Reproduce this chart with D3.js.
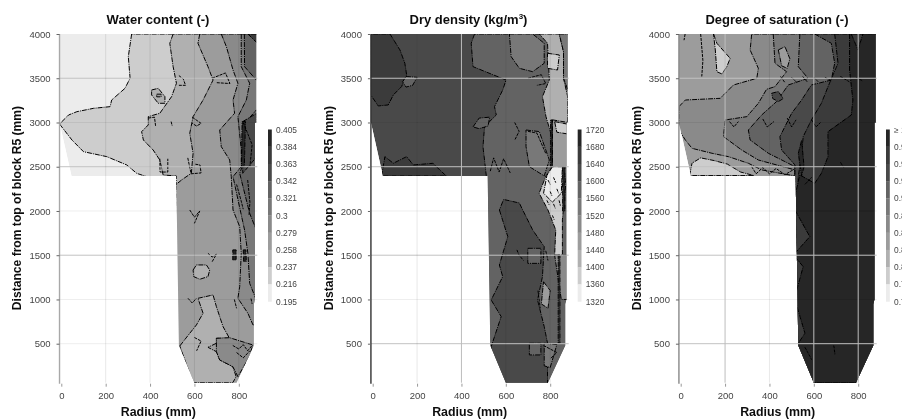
<!DOCTYPE html>
<html lang="en">
<head>
<meta charset="UTF-8">
<title>Block R5 profiles</title>
<script src="https://d3js.org/d3.v7.min.js"></script>
<style>
    html, body { margin: 0; padding: 0; background: #fff; overflow: hidden; }
    text { font-family: "Liberation Sans", Arial, sans-serif; }
    .title, .axis-label { font-weight: bold; fill: #111; }
    .tick text { fill: #444; }
</style>
</head>
<body>
<svg id="chart" width="902" height="419"></svg>
<script>
// grey for each of the ten contour bands, lightest first
var bandGreys = ["#ececec", "#cdcdcd", "#b0b0b0", "#9c9c9c", "#8a8a8a", "#787878", "#646464", "#4a4a4a", "#3a3a3a", "#262626"];

var radiusTicks = [0, 200, 400, 600, 800];
var depthTicks = [4000, 3500, 3000, 2500, 2000, 1500, 1000, 500];

// block section, [radius mm, depth mm]
var blockOutline = [[-8, 4000], [878, 4000], [878, 3000], [873, 3000], [873, 1000], [868, 950], [868, 480], [790, 60], [600, 60], [530, 480], [518, 2395], [46, 2395], [-8, 3000]];

var waterLabels = ["0.405", "0.384", "0.363", "0.342", "0.321", "0.3", "0.279", "0.258", "0.237", "0.216", "0.195"];
var densityLabels = ["1720", "1680", "1640", "1600", "1560", "1520", "1480", "1440", "1400", "1360", "1320"];
var saturationLabels = ["\u2265 1", "0.975", "0.95", "0.925", "0.9", "0.875", "0.85", "0.825", "0.8", "0.775", "0.75"];

// zones are painted in order: [band, outline]
var waterZones = [
    [1, [[317, 4000], [302, 3744], [310, 3500], [287, 3386], [227, 3254], [220, 3179], [145, 3160], [70, 3122], [33, 3085], [-8, 2983], [48, 2802], [100, 2670], [205, 2614], [295, 2520], [340, 2425], [385, 2388], [500, 2300], [1000, 2300], [1000, 4000]]],
    [2, [[504, 4000], [489, 3895], [504, 3631], [519, 3443], [497, 3292], [444, 3104], [392, 3066], [392, 2972], [362, 2896], [370, 2802], [414, 2689], [444, 2576], [459, 2407], [519, 2395], [519, 2300], [1000, 2300], [1000, 4000]]],
    [2, [[407, 3367], [437, 3386], [467, 3292], [467, 3217], [437, 3217], [407, 3311]]],
    [3, [[430, 3320], [450, 3320], [450, 3290], [430, 3290]]],
    [3, [[624, 4000], [616, 3895], [661, 3631], [684, 3480], [639, 3254], [594, 3066], [579, 2878], [594, 2652], [586, 2426], [542, 2350], [518, 2300], [500, 0], [1000, 0], [1000, 4000]]],
    [2, [[534, 474], [579, 618], [609, 712], [639, 844], [616, 1013], [684, 1051], [699, 919], [729, 693], [758, 561], [699, 561], [699, 505], [661, 459], [699, 410], [714, 316], [773, 241], [788, 128], [773, 60], [594, 60]]],
    [2, [[594, 1333], [609, 1390], [654, 1390], [669, 1333], [661, 1258], [624, 1228], [597, 1258]]],
    [4, [[721, 4000], [744, 3857], [774, 3593], [796, 3443], [774, 3254], [781, 3104], [714, 2915], [721, 2727], [759, 2576], [766, 2388], [774, 2011], [804, 1823], [811, 1521], [804, 1145], [796, 1013], [841, 844], [864, 712], [1000, 700], [1000, 4000]]],
    [4, [[699, 561], [758, 568], [863, 486], [848, 354], [796, 128], [773, 241], [714, 316], [699, 410]]],
    [5, [[811, 4000], [811, 3631], [849, 3443], [834, 3254], [796, 3066], [811, 2689], [811, 2500], [774, 2388], [790, 2200], [826, 1785], [841, 1521], [849, 1182], [879, 994], [1000, 994], [1000, 4000]]],
    [6, [[825, 4000], [826, 3631], [879, 3480], [1000, 3480], [1000, 4000]]],
    [6, [[1000, 3141], [879, 3141], [826, 2991], [826, 2576], [804, 2426], [849, 1973], [879, 1785], [1000, 1785]]],
    [8, [[841, 4000], [884, 3895], [884, 4000]]],
    [7, [[818, 3010], [881, 3104], [881, 2614], [818, 2426], [815, 2727]]],
    [9, [[815, 3010], [830, 3010], [825, 2500], [812, 2500]]],
    [9, [[773, 1560], [788, 1560], [788, 1446], [773, 1446]]],
    [9, [[820, 1560], [832, 1560], [834, 1430], [822, 1430]]]
];
var waterSquiggles = [
    [[444, 2590], [445, 2440], [480, 2440], [480, 2590]], [[570, 2600], [585, 2420], [630, 2430], [625, 2520], [600, 2530]],
    [[392, 3050], [420, 3060], [425, 2960]], [[495, 3010], [500, 2960]], [[590, 3060], [630, 2990], [610, 2960], [590, 2990]],
    [[530, 3530], [550, 3490], [560, 3420], [530, 3420]], [[680, 3500], [740, 3560], [760, 3440], [700, 3450]],
    [[579, 2011], [600, 1930], [624, 2000], [600, 1860]], [[661, 1521], [680, 1480], [699, 1510], [680, 1427]], [[571, 1013], [590, 960], [609, 1013]],
    [[773, 480], [800, 440], [820, 490], [840, 420], [860, 480]], [[790, 400], [820, 340], [850, 420]], [[600, 570], [630, 530], [610, 420]],
    [[790, 2300], [810, 2120], [820, 2020]], [[840, 2350], [850, 2100], [846, 1950]], [[820, 3000], [860, 2750], [850, 2500]], [[780, 1000], [790, 900]], [[855, 1010], [860, 950]]
];

var densityZones = [
    [8, [[3, 4000], [78, 4000], [123, 3819], [145, 3669], [153, 3537], [130, 3405], [93, 3311], [70, 3198], [25, 3187], [-9, 3311], [-9, 4000]]],
    [8, [[40, 2395], [55, 2614], [93, 2539], [153, 2614], [183, 2520], [272, 2539], [302, 2464], [332, 2395]]],
    [6, [[150, 3520], [200, 3510], [180, 3420], [150, 3400], [135, 3460]]],
    [6, [[459, 4000], [444, 3895], [452, 3631], [601, 3480], [586, 3367], [549, 3179], [557, 3085], [504, 2953], [497, 2727], [504, 2576], [512, 2396], [512, 2300], [400, 2000], [400, 0], [1000, 0], [1000, 4000]]],
    [6, [[452, 2950], [480, 3050], [527, 3060], [520, 2960], [480, 2930]]],
    [7, [[571, 2011], [609, 1710], [571, 1390], [586, 1258], [534, 994], [579, 806], [549, 580], [534, 467], [500, 0], [788, 0], [788, 505], [773, 693], [743, 994], [765, 1258], [773, 1597], [721, 1785], [676, 2011], [661, 2090], [601, 2124], [590, 2130]]],
    [6, [[706, 505], [758, 505], [758, 373], [706, 373]]],
    [5, [[773, 505], [830, 490], [800, 230], [773, 250]]],
    [6, [[699, 1578], [758, 1578], [758, 1408], [699, 1408]]],
    [5, [[616, 4000], [721, 4000], [773, 3895], [773, 3669], [721, 3574], [661, 3612], [624, 3744]]],
    [5, [[691, 2915], [751, 2897], [796, 2576], [773, 2396], [706, 2501], [691, 2727]]],
    [2, [[751, 4000], [841, 4000], [860, 3800], [860, 3500], [878, 3300], [878, 3000], [803, 2878], [781, 3066], [765, 3292], [796, 3480], [788, 3895]]],
    [5, [[841, 4000], [890, 4000], [890, 3300], [860, 3500], [860, 3800]]],
    [1, [[788, 3782], [841, 3763], [833, 3593], [788, 3612]]],
    [3, [[810, 3030], [880, 3000], [880, 2500], [810, 2500]]],
    [1, [[820, 3010], [880, 2980], [880, 2870], [830, 2890]]],
    [1, [[810, 2501], [781, 2396], [750, 2200], [790, 2011], [825, 1785], [820, 1500], [855, 1500], [855, 1900], [870, 2300], [860, 2500]]],
    [0, [[810, 2500], [785, 2400], [770, 2200], [810, 2100], [850, 2200], [855, 2500]]],
    [4, [[820, 1500], [878, 1500], [878, 1000], [850, 1000]]],
    [3, [[770, 1200], [800, 1100], [790, 900], [760, 950]]],
    [9, [[802, 3028], [810, 3028], [810, 2501], [802, 2501]]],
    [8, [[836, 1500], [844, 1500], [844, 505], [836, 505]]],
    [9, [[856, 2500], [866, 2500], [866, 2000], [856, 2000]]]
];
var densitySquiggles = [
    [[530, 2450], [545, 2600], [570, 2440], [590, 2590], [620, 2430]], [[640, 3000], [660, 2900], [640, 2800]],
    [[700, 3500], [760, 3540], [780, 3440], [740, 3420]], [[790, 2350], [800, 2300]], [[815, 2380], [825, 2320]], [[800, 2220], [808, 2170]],
    [[830, 2250], [838, 2200]], [[785, 2120], [795, 2070]], [[815, 2080], [823, 2030]], [[840, 2120], [846, 2060]], [[810, 1950], [818, 1900]],
    [[650, 1560], [660, 1500], [680, 1440]], [[780, 1550], [790, 1440]], [[745, 1100], [755, 900]], [[770, 480], [800, 440], [830, 400], [800, 330]],
    [[700, 2900], [740, 2880], [780, 2650]]
];

var saturationZones = [
    [1, [[148, 4000], [163, 3895], [223, 3725], [208, 3631], [186, 3548], [163, 3574], [156, 3819]]],
    [1, [[40, 2400], [51, 2540], [90, 2600], [150, 2570], [210, 2530], [270, 2440], [330, 2400]]],
    [4, [[-8, 3179], [21, 3254], [178, 3273], [238, 3424], [343, 3499], [350, 3612], [313, 3819], [320, 4000], [1000, 4000], [1000, 60], [515, 60], [515, 2396], [365, 2464], [305, 2539], [215, 2614], [141, 2652], [51, 2708], [21, 2802], [-8, 2915]]],
    [5, [[417, 4000], [425, 3669], [477, 3574], [425, 3405], [387, 3375], [350, 3217], [298, 3066], [200, 3028], [193, 2840], [275, 2689], [350, 2576], [515, 2464], [515, 60], [1000, 60], [1000, 4000]]],
    [6, [[537, 4000], [530, 3631], [574, 3499], [485, 3424], [432, 3236], [365, 3085], [305, 2915], [313, 2802], [395, 2652], [515, 2501], [515, 60], [1000, 60], [1000, 4000]]],
    [7, [[604, 4000], [679, 3895], [694, 3669], [679, 3480], [589, 3424], [545, 3254], [500, 3104], [447, 2840], [455, 2689], [515, 2520], [515, 60], [1000, 60], [1000, 4000]]],
    [8, [[694, 4000], [709, 3669], [664, 3405], [634, 3217], [589, 3028], [552, 2840], [545, 2652], [530, 2388], [500, 60], [1000, 60], [1000, 4000]]],
    [9, [[761, 4000], [761, 3593], [776, 3254], [769, 3085], [664, 2897], [664, 2614], [634, 2426], [604, 2313], [537, 2407], [500, 2000], [500, 60], [1000, 60], [1000, 4000]]],
    [8, [[769, 4000], [799, 3819], [821, 4000]]],
    [8, [[515, 2011], [582, 1710], [515, 1521]]],
    [8, [[515, 1484], [552, 1371], [515, 1032]]],
    [8, [[515, 1000], [560, 618], [520, 467]]],
    [3, [[440, 3820], [470, 3857], [492, 3720], [480, 3612], [455, 3640]]],
    [7, [[410, 3330], [440, 3350], [462, 3270], [440, 3236], [415, 3270]]],
    [9, [[530, 2650], [545, 2800], [556, 2500], [545, 2400]]]
];
var saturationSquiggles = [
    [[90, 4000], [100, 3700], [95, 3520]], [[20, 4000], [15, 3930]], [[450, 3520], [470, 3450]], [[500, 3510], [520, 3460]], [[550, 3520], [570, 3460]],
    [[600, 3510], [620, 3460]], [[650, 3510], [680, 3470]], [[720, 3520], [760, 3460]], [[790, 3510], [820, 3470]],
    [[220, 3010], [240, 2950], [260, 3010]], [[370, 3040], [390, 2950], [420, 3010]], [[480, 3050], [500, 2950], [520, 3030]], [[590, 3030], [610, 2950], [630, 3000]],
    [[320, 2500], [340, 2420], [370, 2490], [400, 2420], [430, 2480], [470, 2410], [510, 2470]], [[690, 480], [695, 380]], [[720, 2550], [735, 2490]], [[560, 2300], [590, 2380]], [[560, 460], [590, 320]]
];

var svg = d3.select("#chart");

var defs = svg.append("defs");
// the reference is a soft scan, so the whole figure gets a slight blur
defs.append("filter").attr("id", "soft").attr("x", 0).attr("y", 0).attr("width", "100%").attr("height", "100%")
    .append("feGaussianBlur").attr("stdDeviation", 0.55);

var figure = svg.append("g").attr("filter", "url(#soft)");

var panelTop = 34, panelBottom = 382.7;

function drawPanel(p) {
    var g = figure.append("g");
    var x = d3.scaleLinear().domain([0, 800]).range([p.x0, p.x0 + 177.5]);
    var y = d3.scaleLinear().domain([4000, 500]).range([panelTop, 343.7]);
    var line = d3.line().x(function(d) { return x(d[0]); }).y(function(d) { return y(d[1]); });

    defs.append("clipPath").attr("id", "clip-" + p.id).append("path").attr("d", line(blockOutline) + "Z");

    var body = g.append("g").attr("clip-path", "url(#clip-" + p.id + ")");
    body.append("path").attr("d", line(blockOutline) + "Z").attr("fill", bandGreys[p.baseBand]);
    body.selectAll(".zone").data(p.zones).enter().append("path").attr("class", "zone")
        .attr("d", function(d) { return line(d[1]) + "Z"; })
        .attr("fill", function(d) { return bandGreys[d[0]]; })
        .attr("stroke", "#000").attr("stroke-width", 1).attr("stroke-dasharray", "5 1 1 1");
    body.selectAll(".squiggle").data(p.squiggles).enter().append("path").attr("class", "squiggle")
        .attr("d", line).attr("fill", "none")
        .attr("stroke", "#000").attr("stroke-width", 1).attr("stroke-dasharray", "3 1");

    // grid runs over the fill; the faint lines only just show on it
    var right = x(0) + 196;
    var bottom = panelBottom;
    g.selectAll(".gh").data(depthTicks.slice(1)).enter().append("line")
        .attr("x1", x(-8)).attr("x2", right)
        .attr("y1", function(d) { return y(d); }).attr("y2", function(d) { return y(d); })
        .attr("stroke", function(d) { return p.strongDepths.indexOf(d) >= 0 ? "#c2c2c2" : "rgba(0,0,0,0.07)"; })
        .attr("stroke-width", 1);
    g.selectAll(".gv").data(radiusTicks.slice(1)).enter().append("line")
        .attr("y1", panelTop).attr("y2", bottom)
        .attr("x1", function(d) { return x(d); }).attr("x2", function(d) { return x(d); })
        .attr("stroke", function(d) { return p.strongRadii.indexOf(d) >= 0 ? "#bdbdbd" : "rgba(0,0,0,0.09)"; })
        .attr("stroke-width", 1);
    g.append("line").attr("x1", x(-8)).attr("x2", x(-8)).attr("y1", panelTop).attr("y2", bottom + 1)
        .attr("stroke", p.axisColor).attr("stroke-width", 1.4);

    var ax = g.append("g").attr("transform", "translate(0," + (bottom + 1) + ")")
        .call(d3.axisBottom(x).tickValues(radiusTicks).tickSize(3).tickPadding(6).tickFormat(d3.format("d")));
    var ay = g.append("g").attr("transform", "translate(" + x(-8) + ",0)")
        .call(d3.axisLeft(y).tickValues(depthTicks).tickSize(3).tickPadding(6).tickFormat(d3.format("d")));
    ax.select(".domain").remove();
    ay.select(".domain").remove();
    ax.selectAll("line").attr("stroke", "#999");
    ay.selectAll("line").attr("stroke", "#666");
    ax.selectAll("text").style("font-size", "9.5px");
    ay.selectAll("text").style("font-size", "9.5px");

    var title = g.append("text").attr("class", "title").attr("x", p.titleX).attr("y", 24)
        .attr("text-anchor", "middle").style("font-size", "13px");
    title.append("tspan").text(p.title);
    if (p.titleSup) {
        title.append("tspan").attr("dy", -5).style("font-size", "8px").text(p.titleSup);
        title.append("tspan").attr("dy", 5).text(")");
    }

    g.append("text").attr("class", "axis-label").attr("x", x(0) + 97).attr("y", 416)
        .attr("text-anchor", "middle").style("font-size", "12.4px").text("Radius (mm)");
    g.append("text").attr("class", "axis-label")
        .attr("transform", "translate(" + (x(0) - 40) + ",208) rotate(-90)")
        .attr("text-anchor", "middle").style("font-size", "12.1px").text("Distance from top of block R5 (mm)");

    // colour bar, one step per label
    var barY = d3.scalePoint().domain(p.labels).range([129.5, 301.5]);
    var bands = bandGreys.slice().reverse();
    g.selectAll(".band").data(bands).enter().append("rect").attr("class", "band")
        .attr("x", p.barX).attr("width", 3.8)
        .attr("y", function(d, i) { return barY(p.labels[i]); })
        .attr("height", 17.4)
        .attr("fill", function(d) { return d; });
    g.selectAll(".bar-label").data(p.labels).enter().append("text").attr("class", "bar-label")
        .attr("x", p.barX + 8).attr("y", function(d) { return barY(d) + 3; })
        .attr("fill", "#444").style("font-size", "8.4px").text(function(d) { return d; });
}

drawPanel({ id: "water", x0: 61.3, barX: 268, title: "Water content (-)", titleX: 158, baseBand: 0, zones: waterZones, squiggles: waterSquiggles,
    labels: waterLabels, axisColor: "#a8a8a8", strongDepths: [3500, 2500, 1500], strongRadii: [] });
drawPanel({ id: "density", x0: 372.7, barX: 577.7, title: "Dry density (kg/m", titleSup: "3", titleX: 468.5, baseBand: 7, zones: densityZones, squiggles: densitySquiggles,
    labels: densityLabels, axisColor: "#333", strongDepths: [3500, 2500, 1500, 500], strongRadii: [400] });
drawPanel({ id: "saturation", x0: 680.7, barX: 886, title: "Degree of saturation (-)", titleX: 777, baseBand: 3, zones: saturationZones, squiggles: saturationSquiggles,
    labels: saturationLabels, axisColor: "#888", strongDepths: [3500, 2500, 1500, 500], strongRadii: [200, 600, 800] });
</script>
</body>
</html>
